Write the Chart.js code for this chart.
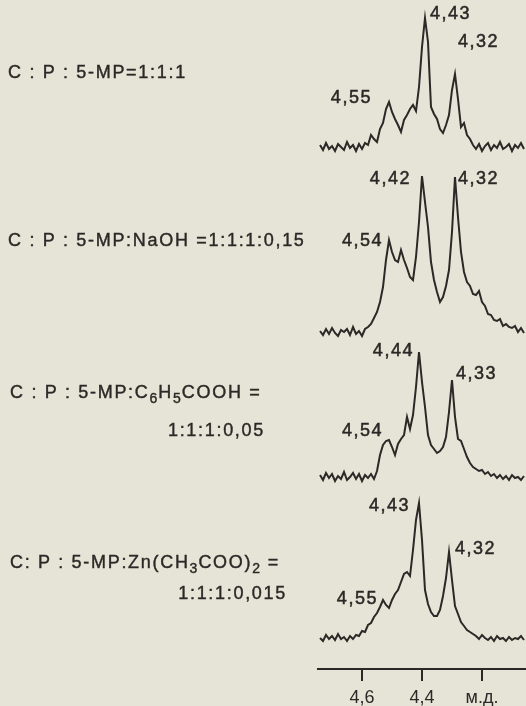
<!DOCTYPE html>
<html>
<head>
<meta charset="utf-8">
<script src="https://cdn.jsdelivr.net/npm/chart.js@4"></script>
<style>
  html, body { margin: 0; padding: 0; background: #e6e4d6; }
  #wrap { position: relative; width: 526px; height: 706px; overflow: hidden; }
  #nmr { position: absolute; left: 0; top: 0; }
  .lbl {
    position: absolute; white-space: nowrap; color: #2a2927;
    font: 18px "Liberation Sans", Arial, sans-serif; letter-spacing: 1.7px;
    line-height: 20px; -webkit-text-stroke: 0.4px #2a2927;
  }
  .lbl sub { font-size: 14px; vertical-align: -5px; line-height: 0; letter-spacing: 1px; }
</style>
</head>
<body>
<div id="wrap">
  <canvas id="nmr" width="526" height="706"></canvas>
  <div class="lbl" style="left:8px; top:62px">C : P : 5-MP=1:1:1</div>
  <div class="lbl" style="left:8px; top:230px">C : P : 5-MP:NaOH =1:1:1:0,15</div>
  <div class="lbl" style="left:10px; top:382px">C : P : 5-MP:C<sub>6</sub>H<sub>5</sub>COOH =</div>
  <div class="lbl" style="right:261px; top:420px">1:1:1:0,05</div>
  <div class="lbl" style="left:10px; top:552px">C: P : 5-MP:Zn(CH<sub>3</sub>COO)<sub>2</sub> =</div>
  <div class="lbl" style="right:239px; top:583px">1:1:1:0,015</div>
</div>
<script>
// chemical shift grid, ppm
const shifts = [
  4.74, 4.73, 4.72, 4.71, 4.70, 4.69, 4.68, 4.67, 4.66, 4.65,
  4.64, 4.63, 4.62, 4.61, 4.60, 4.59, 4.58, 4.57, 4.56, 4.55,
  4.54, 4.53, 4.52, 4.51, 4.50, 4.49, 4.48, 4.47, 4.46, 4.45,
  4.44, 4.43, 4.42, 4.41, 4.40, 4.39, 4.38, 4.37, 4.36, 4.35,
  4.34, 4.33, 4.32, 4.31, 4.30, 4.29, 4.28, 4.27, 4.26, 4.25,
  4.24, 4.23, 4.22, 4.21, 4.20, 4.19, 4.18, 4.17, 4.16, 4.15,
  4.14, 4.13, 4.12, 4.11, 4.10, 4.09, 4.08, 4.07, 4.06
];

// relative intensities
const specBase = [
  2, -3, 4, -2, 1, -4, 3, 0, -3, 5,
  -1, 2, -4, 3, -2, 4, 2, 12, 8, 5,
  18, 24, 38, 45, 35, 28, 22, 15, 27, 32,
  38, 42, 36, 60, 100, 129, 105, 40, 33, 28,
  18, 14, 22, 32, 57, 73, 48, 20, 24, 12,
  8, 2, -2, 3, -4, 1, 4, -3, 2, -1,
  5, -2, 0, 3, -4, 2, -1, 4, -2
];
const specNaOH = [
  1, -3, 3, -2, 4, -1, -4, 2, 0, 3,
  -3, 5, -2, 1, -4, 3, 5, 8, 14, 20,
  30, 45, 72, 92, 80, 72, 70, 82, 72, 64,
  55, 52, 75, 110, 156, 130, 105, 70, 52, 40,
  30, 35, 46, 62, 100, 155, 115, 80, 60, 50,
  46, 38, 37, 41, 30, 26, 18, 17, 12, 11,
  13, 6, 8, 5, 4, 6, 0, 4, -1
];
const specBenzoic = [
  2, -3, 4, -1, 3, -4, 1, -2, 5, -3,
  0, 4, -2, 3, -4, 2, -1, 3, -2, 6,
  22, 32, 36, 37, 30, 22, 33, 38, 42, 60,
  48, 62, 90, 125, 95, 70, 42, 32, 28, 24,
  26, 30, 40, 65, 97, 60, 38, 36, 28, 20,
  14, 10, 8, 6, 7, 3, 5, 1, 3, -1,
  2, -2, 1, -3, 2, -1, 0, -3, 1
];
const specZinc = [
  0, -3, 3, -1, 2, -2, 4, -1, 1, -3,
  2, -1, 3, 2, 7, 6, 13, 15, 21, 25,
  31, 38, 33, 30, 38, 44, 48, 56, 64, 66,
  62, 88, 118, 135, 98, 48, 34, 26, 22, 22,
  28, 42, 60, 86, 58, 32, 24, 16, 12, 8,
  6, 4, 2, -1, 3, 0, -2, 1, -3, 2,
  -1, 0, -3, 1, -2, 0, -1, 2, -2
];

const tickValues = [4.6, 4.4, 4.2];
const tickLabels = ["4,6", "4,4", "м.д."];

// [trace, text, ppm, intensity, align]
const peakLabels = [
  [0, "4,43", 4.373, 128, "left"],
  [0, "4,32", 4.280, 100, "left"],
  [0, "4,55", 4.567, 44, "right"],
  [1, "4,42", 4.437, 148, "right"],
  [1, "4,32", 4.280, 148, "left"],
  [1, "4,54", 4.530, 86, "right"],
  [2, "4,44", 4.427, 121, "right"],
  [2, "4,33", 4.287, 98, "left"],
  [2, "4,54", 4.530, 41, "right"],
  [3, "4,43", 4.440, 127, "right"],
  [3, "4,32", 4.290, 84, "left"],
  [3, "4,55", 4.547, 34, "right"]
];

const traces = [specBase, specNaOH, specBenzoic, specZinc];
const stackOffset = [522, 337, 192, 31]; // vertical spacing of stacked traces
const ink = "#2a2927";
const fontFamily = '"Liberation Sans", Arial, sans-serif';

const peakLabelPlugin = {
  id: "peakLabels",
  afterDatasetsDraw(chart) {
    const { ctx, scales } = chart;
    ctx.save();
    ctx.fillStyle = ink;
    ctx.strokeStyle = ink;
    ctx.lineWidth = 0.5;
    ctx.font = "18px " + fontFamily;
    ctx.letterSpacing = "1.5px";
    ctx.textBaseline = "alphabetic";
    peakLabels.forEach(([t, text, ppm, val, align]) => {
      const x = scales.x.getPixelForValue(ppm);
      const y = scales.y.getPixelForValue(val + stackOffset[t]);
      ctx.textAlign = align;
      ctx.fillText(text, x, y);
      ctx.strokeText(text, x, y);
    });
    ctx.restore();
  }
};

const ctx = document.getElementById("nmr").getContext("2d");
new Chart(ctx, {
  type: "line",
  data: {
    datasets: traces.map((tr, t) => ({
      data: shifts.map((s, i) => ({ x: s, y: tr[i] + stackOffset[t] })),
      borderColor: ink,
      borderWidth: 2,
      pointRadius: 0,
      tension: 0,
      fill: false
    }))
  },
  options: {
    responsive: false,
    animation: false,
    layout: { padding: { left: 318, right: 0, top: 0, bottom: -9 } },
    plugins: { legend: { display: false }, tooltip: { enabled: false } },
    scales: {
      x: {
        type: "linear",
        reverse: true,
        min: 4.0533,
        max: 4.7467,
        afterBuildTicks: (scale) => { scale.ticks = tickValues.map(v => ({ value: v })); },
        ticks: {
          color: ink,
          font: { family: fontFamily, size: 18, lineHeight: 1 },
          padding: 8,
          maxRotation: 0,
          autoSkip: false,
          callback: (v) => tickLabels[tickValues.indexOf(v)]
        },
        grid: { drawOnChartArea: false, drawTicks: true, tickLength: 12, color: ink, lineWidth: 2 },
        border: { color: ink, width: 2 }
      },
      y: { display: false, min: 0, max: 669 }
    }
  },
  plugins: [peakLabelPlugin]
});
</script>
</body>
</html>
